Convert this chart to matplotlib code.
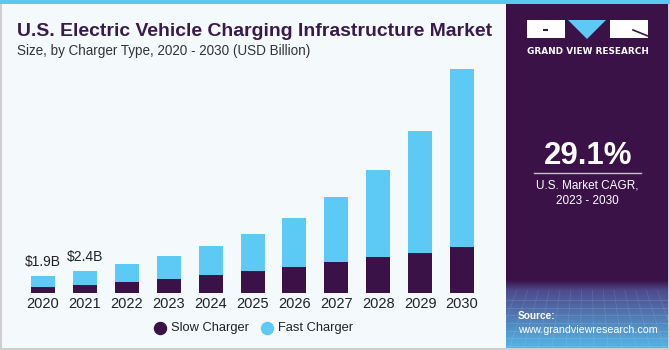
import matplotlib
matplotlib.use("Agg")
import matplotlib.pyplot as plt
import numpy as np
from matplotlib.patches import Rectangle, Polygon

years = ["2020", "2021", "2022", "2023", "2024", "2025", "2026", "2027", "2028", "2029", "2030"]
slow = [0.68, 0.93, 1.25, 1.58, 2.00, 2.44, 2.84, 3.35, 3.89, 4.39, 5.03]
total = [1.90, 2.44, 3.16, 4.03, 5.10, 6.44, 8.13, 10.37, 13.28, 17.56, 24.19]
fast = [t - s for t, s in zip(total, slow)]
value_labels = {0: "$1.9B", 1: "$2.4B"}
series_names = ["Slow Charger", "Fast Charger"]

SLOW_C = "#3A1248"
FAST_C = "#5DCAF5"
PANEL_C = "#3A1248"
BG_C = "#F4F9FC"

W, H = 670, 350
fig = plt.figure(figsize=(W / 100, H / 100), dpi=100)
fig.patch.set_facecolor("white")
renderer = fig.canvas.get_renderer()


def fit_text(t, width_px):
    w = t.get_window_extent(renderer=renderer).width
    t.set_fontsize(t.get_fontsize() * width_px / w)


bg = fig.add_axes([0, 0, 1, 1], zorder=0)
bg.set_xlim(0, W)
bg.set_ylim(H, 0)
bg.axis("off")
bg.add_patch(Rectangle((0, 0), W, H, facecolor=BG_C, edgecolor="none"))
bg.add_patch(Rectangle((0.5, 0), W - 1.5, H - 1.5, facecolor="none", edgecolor="#CFCFCF", lw=1.5))
bg.add_patch(Rectangle((506, 0), 162, H - 2, facecolor=PANEL_C, edgecolor="none"))
grad = np.linspace(0, 1, 100)
c0 = np.array([0x3A, 0x12, 0x48]) / 255
c1 = np.array([0x4E, 0x4A, 0x8C]) / 255
c2 = np.array([0x55, 0xB5, 0xE5]) / 255
img = np.zeros((100, 1, 3))
for i, g in enumerate(grad):
    if g < 0.15:
        img[i, 0] = c0 + (c1 - c0) * (g / 0.15)
    else:
        img[i, 0] = c1 + (c2 - c1) * ((g - 0.15) / 0.85)
bg.imshow(img, extent=(506, 668, 348, 280), aspect="auto", zorder=1)
for yy in np.linspace(300, 346, 7):
    bg.plot([506, 668], [yy, yy], color="white", alpha=0.12, lw=0.6, zorder=2)
for xx in np.linspace(506, 668, 16):
    bg.plot([xx, xx + (xx - 587) * 0.3], [290, 348], color="white", alpha=0.10, lw=0.6, zorder=2)
bg.add_patch(Rectangle((0, 0), W, 4, facecolor="#5BC8F0", edgecolor="none", zorder=3))

# logo
bg.add_patch(Rectangle((527, 20), 38, 18, facecolor="white", edgecolor="none", zorder=3))
bg.add_patch(Rectangle((543, 29), 5, 2, facecolor=PANEL_C, edgecolor="none", zorder=4))
bg.add_patch(Polygon([(568, 20), (606, 20), (587, 39)], closed=True, facecolor=FAST_C, edgecolor="none", zorder=3))
bg.add_patch(Rectangle((610, 20), 38, 18, facecolor="white", edgecolor="none", zorder=3))
bg.plot([633, 648], [30, 36], color=PANEL_C, lw=1.2, zorder=4)
t = bg.text(587.5, 51, "GRAND VIEW RESEARCH", color="white", fontsize=7, fontweight="bold",
            ha="center", va="center", family="DejaVu Sans", zorder=4)
fit_text(t, 121)

# CAGR
t = bg.text(588, 156, "29.1%", color="white", fontsize=22, fontweight="bold",
            ha="center", va="center", family="Liberation Sans", zorder=4)
fit_text(t, 88)
bg.plot([534, 641], [173, 173], color="#C8C0D0", lw=1, zorder=4)
t = bg.text(587.5, 186, "U.S. Market CAGR,", color="white", fontsize=9.5,
            ha="center", va="center", family="Liberation Sans", zorder=4)
fit_text(t, 103)
t2 = bg.text(587.5, 201, "2023 - 2030", color="white", fontsize=t.get_fontsize(),
             ha="center", va="center", family="Liberation Sans", zorder=4)
t = bg.text(518, 316, "Source:", color="white", fontsize=9, fontweight="bold",
            ha="left", va="center", family="Liberation Sans", zorder=4)
fit_text(t, 38)
t = bg.text(518, 330, "www.grandviewresearch.com", color="white", fontsize=8.5,
            ha="left", va="center", family="Liberation Sans", zorder=4)
fit_text(t, 138)

# titles
t = bg.text(17, 31, "U.S. Electric Vehicle Charging Infrastructure Market", color="#3A1A4E",
            fontsize=13, fontweight="bold", ha="left", va="center", family="Liberation Sans", zorder=4)
fit_text(t, 474)
t = bg.text(17, 51, "Size, by Charger Type, 2020 - 2030 (USD Billion)", color="#333333",
            fontsize=10, ha="left", va="center", family="Liberation Sans", zorder=4)
fit_text(t, 296)

# chart
base_px = 293.3
px_per_b = 9.26
ax_h_px = 240
ax = fig.add_axes([22.05 / W, (H - base_px) / H, 461 / W, ax_h_px / H], zorder=5)
ax.set_facecolor("none")
x = np.arange(len(years))
bw = 0.573
ax.bar(x, slow, width=bw, color=SLOW_C, label=series_names[0])
ax.bar(x, fast, width=bw, bottom=slow, color=FAST_C, label=series_names[1])
ax.set_xlim(-0.5, len(years) - 0.5)
ax.set_ylim(0, ax_h_px / px_per_b)
for i, lab in value_labels.items():
    ax.text(x[i], total[i] + 0.75, lab, ha="center", va="bottom", fontsize=10,
            color="#222222", family="Liberation Sans")
ax.set_xticks(x)
ax.set_xticklabels(years, fontsize=10.5, color="#222222", family="Liberation Sans")
ax.tick_params(axis="x", length=0, pad=3)
ax.set_yticks([])
for s in ax.spines.values():
    s.set_visible(False)

# legend (manual placement)
for name, col, mx in zip(series_names, [SLOW_C, FAST_C], [160, 267]):
    bg.scatter([mx], [328], s=75, color=col, zorder=6)
    bg.text(mx + 11, 328, name, ha="left", va="center", fontsize=9.3,
            color="#222222", family="Liberation Sans", zorder=6)

fig.savefig("out.png", dpi=100, facecolor=fig.get_facecolor())
